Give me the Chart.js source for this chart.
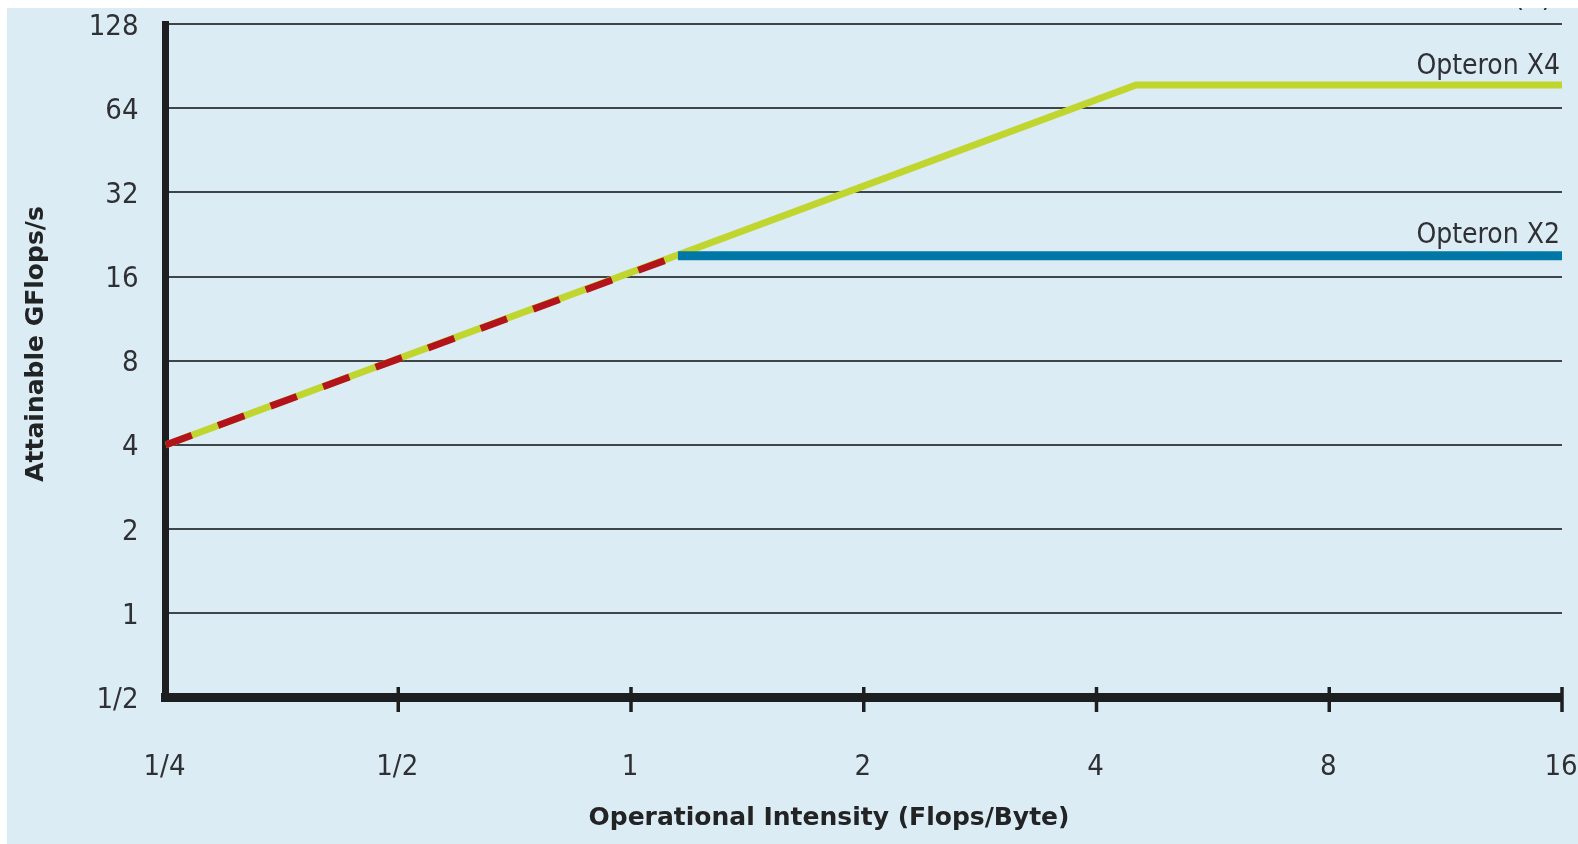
<!DOCTYPE html>
<html>
<head>
<meta charset="utf-8">
<script src="https://cdn.jsdelivr.net/npm/chart.js@4.4.1/dist/chart.umd.min.js"></script>
<style>
    html, body { margin: 0; padding: 0; background: #ffffff; }
    .panel {
        position: absolute;
        left: 7px;
        top: 8px;
        width: 1571px;
        height: 836px;
        background: #dcecf4;
        overflow: hidden;
    }
    canvas { display: block; }
</style>
</head>
<body>
<div class="panel">
    <canvas id="rooflineChart" width="1571" height="836"></canvas>
</div>
<script>
// Tick positions and labels (log2 axes)
const intensityTicks = [0.25, 0.5, 1, 2, 4, 8, 16];
const intensityLabels = ['1/4', '1/2', '1', '2', '4', '8', '16'];
const perfTicks = [0.5, 1, 2, 4, 8, 16, 32, 64, 128];
const perfLabels = ['1/2', '1', '2', '4', '8', '16', '32', '64', '128'];

// Roofline series (Flops/Byte -> GFlops/s)
const seriesNames = ['Opteron X4', 'Opteron X2'];
const x4Intensity = [0.25, 4.5, 16];
const x4Perf = [4, 77.5, 77.5];
const x2Intensity = [1.15, 16];
const x2Perf = [19, 19];
// shared memory-bound part, drawn dashed over the X4 roof
const sharedIntensity = [0.25, 1.15];
const sharedPerf = [4, 19];

const AXIS_COLOR = '#1d1e20';
const TEXT_COLOR = '#2e3033';
const TICK_FONT = '"Liberation Sans Narrow", "DejaVu Sans Condensed", sans-serif';

function toPoints(xs, ys) {
    return xs.map((x, i) => ({ x: x, y: ys[i] }));
}

// keep the label overflow from pushing the plot area in
function noScalePadding(scale) {
    scale.paddingLeft = 0;
    scale.paddingRight = 0;
    scale.paddingTop = 0;
    scale.paddingBottom = 0;
}

// tick marks crossing the bottom axis, series names and axis titles
const decorations = {
    id: 'decorations',
    afterDatasetsDraw(chart) {
        const ctx = chart.ctx;
        const area = chart.chartArea;
        const yScale = chart.scales.y;

        ctx.save();
        ctx.fillStyle = TEXT_COLOR;
        ctx.font = '28px ' + TICK_FONT;
        ctx.textAlign = 'right';
        ctx.textBaseline = 'alphabetic';
        ctx.fillText(seriesNames[0], area.right - 2, yScale.getPixelForValue(x4Perf[x4Perf.length - 1]) - 11);
        ctx.fillText(seriesNames[1], area.right - 2, yScale.getPixelForValue(x2Perf[x2Perf.length - 1]) - 13);

        // clipped panel label at the very top
        ctx.font = '30px ' + TICK_FONT;
        ctx.fillText('(b)', area.right - 10, -2);
        ctx.restore();
    },
    afterDraw(chart) {
        const ctx = chart.ctx;
        const area = chart.chartArea;
        const xScale = chart.scales.x;

        ctx.save();
        ctx.strokeStyle = AXIS_COLOR;
        ctx.lineWidth = 3.5;
        intensityTicks.slice(1).forEach(v => {
            const x = xScale.getPixelForValue(v);
            ctx.beginPath();
            ctx.moveTo(x, area.bottom - 10.5);
            ctx.lineTo(x, area.bottom + 14.5);
            ctx.stroke();
        });

        // axis titles
        ctx.fillStyle = '#222325';
        ctx.font = 'bold 25px "DejaVu Sans", sans-serif';
        ctx.textAlign = 'center';
        ctx.textBaseline = 'middle';
        ctx.fillText('Operational Intensity (Flops/Byte)', 822, 810);

        ctx.translate(29, 336);
        ctx.rotate(-Math.PI / 2);
        ctx.fillText('Attainable GFlops/s', 0, 0);
        ctx.restore();
    }
};

const ctx = document.getElementById('rooflineChart').getContext('2d');

new Chart(ctx, {
    type: 'scatter',
    data: {
        datasets: [
            {
                label: 'shared',
                data: toPoints(sharedIntensity, sharedPerf),
                showLine: true,
                borderColor: '#b3141c',
                borderWidth: 7,
                borderDash: [28, 28],
                borderCapStyle: 'butt',
                pointRadius: 0,
                tension: 0
            },
            {
                label: seriesNames[1],
                data: toPoints(x2Intensity, x2Perf),
                showLine: true,
                borderColor: '#0077a6',
                borderWidth: 9,
                borderCapStyle: 'butt',
                pointRadius: 0,
                tension: 0
            },
            {
                label: seriesNames[0],
                data: toPoints(x4Intensity, x4Perf),
                showLine: true,
                borderColor: '#c1d52f',
                borderWidth: 7,
                borderCapStyle: 'butt',
                borderJoinStyle: 'miter',
                pointRadius: 0,
                tension: 0
            }
        ]
    },
    options: {
        responsive: false,
        animation: false,
        devicePixelRatio: 1,
        layout: {
            padding: { left: 0, top: 16, right: 16, bottom: 0 }
        },
        plugins: {
            legend: { display: false },
            tooltip: { enabled: false }
        },
        scales: {
            x: {
                type: 'logarithmic',
                min: 0.25,
                max: 16,
                afterBuildTicks: scale => {
                    scale.ticks = intensityTicks.map(v => ({ value: v }));
                },
                afterFit: scale => {
                    scale.height = 146.5;
                    noScalePadding(scale);
                },
                ticks: {
                    autoSkip: false,
                    maxRotation: 0,
                    padding: 55,
                    labelOffset: -1,
                    color: TEXT_COLOR,
                    font: { family: TICK_FONT, size: 29, lineHeight: 1 },
                    callback: (value, index) => intensityLabels[index]
                },
                grid: { display: false, drawTicks: false },
                border: { display: true, color: AXIS_COLOR, width: 9 }
            },
            y: {
                type: 'logarithmic',
                min: 0.5,
                max: 128,
                afterBuildTicks: scale => {
                    scale.ticks = perfTicks.map(v => ({ value: v }));
                },
                afterFit: scale => {
                    scale.width = 158.5;
                    noScalePadding(scale);
                },
                ticks: {
                    autoSkip: false,
                    padding: 27,
                    labelOffset: 3,
                    color: TEXT_COLOR,
                    font: { family: TICK_FONT, size: 29, lineHeight: 1 },
                    callback: (value, index) => perfLabels[index]
                },
                grid: {
                    display: true,
                    drawTicks: false,
                    color: '#3f4549',
                    lineWidth: 2
                },
                border: { display: true, color: AXIS_COLOR, width: 7 }
            }
        }
    },
    plugins: [decorations]
});
</script>
</body>
</html>
